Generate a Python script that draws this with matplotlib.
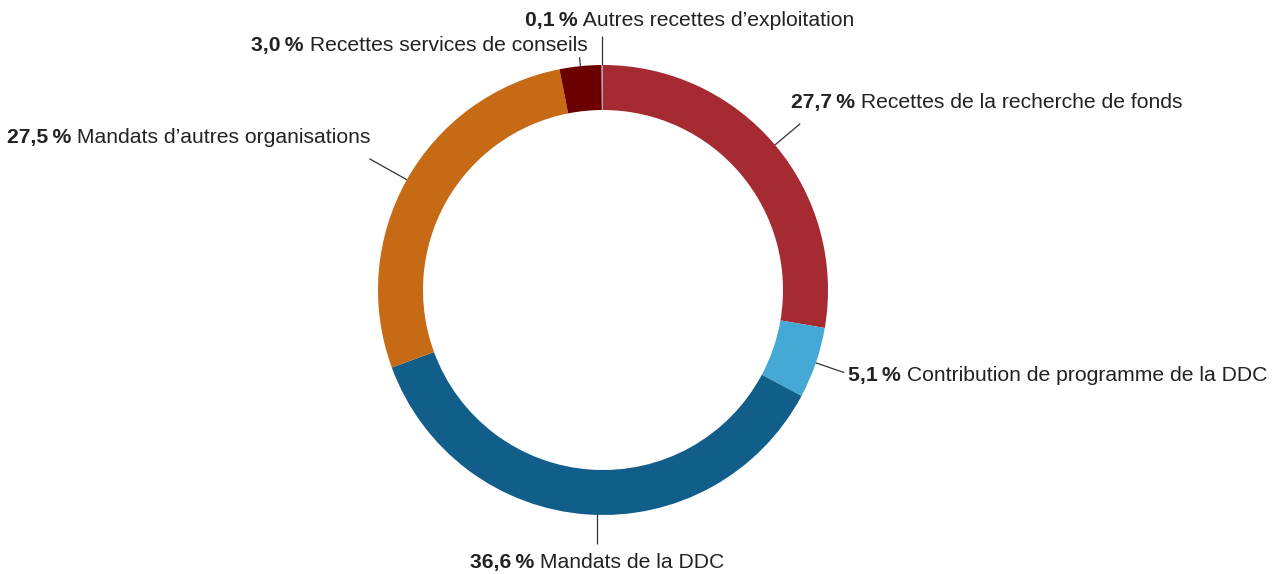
import numpy as np
import matplotlib.pyplot as plt

# donnees du graphique
categories = ["Recettes de la recherche de fonds",
              "Contribution de programme de la DDC",
              "Mandats de la DDC",
              "Mandats d\u2019autres organisations",
              "Recettes services de conseils",
              "Autres recettes d\u2019exploitation"]
valeurs = [27.7, 5.1, 36.6, 27.5, 3.0, 0.1]
couleurs = ["#A62A32", "#45A9D6", "#115E8A", "#C66A16", "#6C0000", "#A9ABAE"]

# mise en page des etiquettes : (longueur du trait, vertical?, alignement, dx, dy) en pixels
layout = [(33, False, "left", -9, 21),
          (30, False, "left", 4, -3),
          (30, True, "center", 10, -18),
          (43, False, "right", 1, 21),
          (9, False, "right", 8, 12),
          (29, True, "left", -77, 16)]

W, H = 1272, 574
cx, cy = 603, H - 290
R, largeur = 225, 45

fig = plt.figure(figsize=(W / 100, H / 100), dpi=100)
ax = fig.add_axes([0, 0, 1, 1])
ax.axis("off")

plt.rcParams['font.family'] = ['Liberation Sans', 'DejaVu Sans']

wedges, _ = ax.pie(valeurs, colors=couleurs, startangle=90, counterclock=False,
                   center=(cx, cy), radius=R,
                   wedgeprops=dict(width=largeur, linewidth=0))
ax.set_xlim(0, W)
ax.set_ylim(0, H)
ax.set_aspect("auto")

fs = 15.2
couleur_txt = "#222222"
textes = []
for w, cat, val, (L, vert, ha, dx, dy) in zip(wedges, categories, valeurs, layout):
    ang = np.deg2rad((w.theta1 + w.theta2) / 2)
    x0 = cx + R * np.cos(ang)
    y0 = cy + R * np.sin(ang)
    if vert:
        # trait vertical, decale avec le texte pour les etiquettes centrees
        if ha == "center":
            x0 = x0 + dx
            dx = 0
        x1 = x0
        y1 = y0 + L * np.sign(np.sin(ang))
    else:
        x1 = x0 + L * np.cos(ang)
        y1 = y0 + L * np.sin(ang)
    ax.plot([x0, x1], [y0, y1], color="#333333", lw=0.9, solid_capstyle="butt")
    pct = ("%.1f" % val).replace(".", ",") + "\u2009%"
    tb = ax.text(x1 + dx, y1 + dy, pct, fontsize=fs, fontweight="bold",
                 color=couleur_txt, ha="left", va="center")
    tr = ax.annotate(" " + cat, xy=(1, 0), xycoords=tb, ha="left", va="bottom",
                     fontsize=fs, color=couleur_txt)
    textes.append((tb, tr, ha))

# recalage des etiquettes selon l'alignement voulu
fig.canvas.draw()
r = fig.canvas.get_renderer()
for tb, tr, ha in textes:
    b1 = tb.get_window_extent(r)
    b2 = tr.get_window_extent(r)
    total = b2.x1 - b1.x0
    x, y = tb.get_position()
    if ha == "right":
        tb.set_position((x - total, y))
    elif ha == "center":
        tb.set_position((x - total / 2, y))

fig.savefig("out.png", dpi=100)
